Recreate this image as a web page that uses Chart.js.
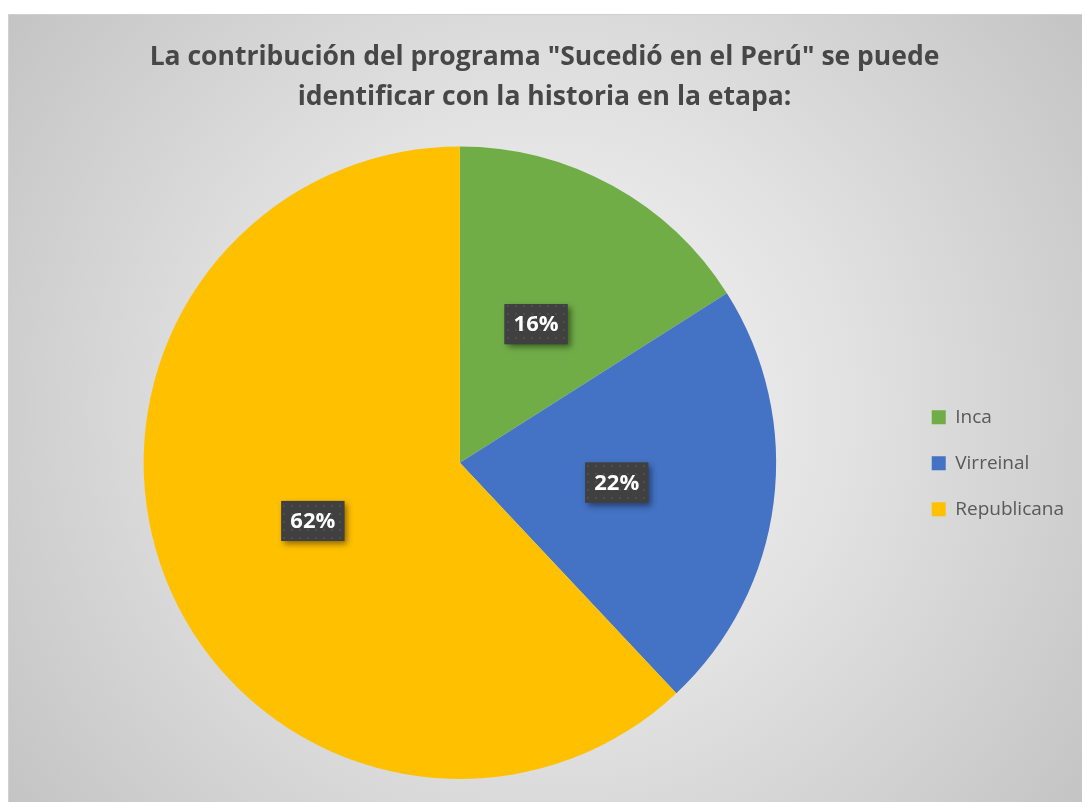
<!DOCTYPE html>
<html>
<head>
<meta charset="utf-8">
<script src="https://cdn.jsdelivr.net/npm/chart.js@4"></script>
<style>
  body { margin: 0; background: #fff; }
  #caja {
    position: absolute; left: 8px; top: 14px; width: 1073px; height: 787px;
    border: 1px solid #d0d0d0;
    background: radial-gradient(circle farthest-corner at 50% 50%, #f6f6f6 0%, #e2e2e2 45%, #c4c4c4 100%);
  }
</style>
</head>
<body>
<div id="caja"><canvas id="pieChart"></canvas></div>
<script>
// datos
const etapas = ['Inca', 'Virreinal', 'Republicana'];
const porcentajes = [16, 22, 62];
const colores = ['#70ad47', '#4472c4', '#ffc000'];
const titulo = ['La contribución del programa "Sucedió en el Perú" se puede', 'identificar con la historia en la etapa:'];

// patron de puntos para las etiquetas
const pc = document.createElement('canvas');
pc.width = 8; pc.height = 8;
const pctx = pc.getContext('2d');
pctx.fillStyle = '#404040';
pctx.fillRect(0, 0, 8, 8);
pctx.fillStyle = '#4d4d4d';
pctx.fillRect(2, 2, 2, 2);

// etiquetas de porcentaje
const etiquetas = {
  id: 'etiquetas',
  afterDatasetsDraw(chart) {
    const ctx = chart.ctx;
    const meta = chart.getDatasetMeta(0);
    meta.data.forEach((arc, i) => {
      const p = arc.tooltipPosition();
      const w = 63, h = 40;
      ctx.save();
      ctx.shadowColor = 'rgba(0,0,0,0.45)';
      ctx.shadowBlur = 6;
      ctx.shadowOffsetX = 3;
      ctx.shadowOffsetY = 3;
      ctx.fillStyle = '#404040';
      ctx.fillRect(p.x - w / 2, p.y - h / 2, w, h);
      ctx.shadowColor = 'transparent';
      ctx.fillStyle = ctx.createPattern(pc, 'repeat');
      ctx.fillRect(p.x - w / 2, p.y - h / 2, w, h);
      ctx.fillStyle = '#fff';
      ctx.font = 'bold 22px "Open Sans"';
      ctx.textAlign = 'center';
      ctx.textBaseline = 'middle';
      ctx.fillText(porcentajes[i] + '%', p.x, p.y + 1);
      ctx.restore();
    });
  }
};

const ctp = document.getElementById('pieChart');

new Chart(ctp, {
  type: 'pie',
  data: {
    labels: etapas,
    datasets: [{
      data: porcentajes,
      backgroundColor: colores,
      borderWidth: 0
    }]
  },
  options: {
    responsive: true,
    maintainAspectRatio: false,
    animation: false,
    layout: {
      padding: { left: 6, right: 8, bottom: 23 }
    },
    plugins: {
      title: {
        display: true,
        text: titulo,
        color: '#474747',
        font: { family: 'Open Sans', size: 26.5, weight: 'bold', lineHeight: 1.5 },
        padding: { top: 23, bottom: 29 }
      },
      legend: {
        position: 'right',
        title: {
          display: true,
          text: '',
          font: { size: 12, lineHeight: 1.2 },
          padding: { top: 60, bottom: 58 }
        },
        labels: {
          color: '#595959',
          font: { family: 'Open Sans', size: 19 },
          boxWidth: 14,
          boxHeight: 14,
          padding: 27
        }
      },
      tooltip: { enabled: false }
    }
  },
  plugins: [etiquetas]
});
</script>
</body>
</html>
